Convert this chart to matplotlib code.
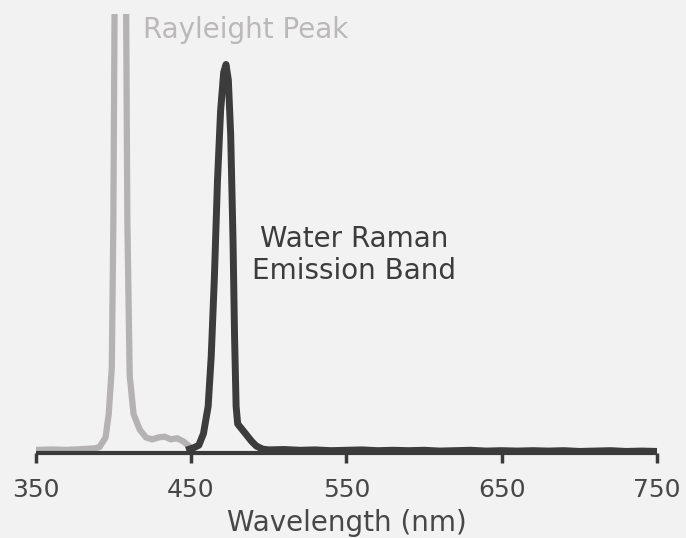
import matplotlib
matplotlib.use("Agg")
import matplotlib.pyplot as plt

# Rayleigh scatter peak (grey)
ray_wl = [350, 360, 370, 380, 388, 391, 395, 397, 399, 400, 401, 404, 408, 409,
          410.5, 413, 417, 421, 425, 429, 433, 437, 441, 445, 448]
ray_int = [0.008, 0.009, 0.008, 0.010, 0.012, 0.015, 0.04, 0.10, 0.22, 0.6, 1.3, 1.8,
           1.3, 0.6, 0.2, 0.10, 0.06, 0.04, 0.035, 0.04, 0.042, 0.035, 0.038, 0.03, 0.02]

# Water Raman emission band (dark)
ram_wl = [449, 452, 455, 458, 461, 463, 465, 467, 469, 471, 472.5, 474, 475.5, 477,
          478, 479, 480, 483, 486, 489, 492, 496, 500, 510, 520, 530, 540, 550, 560,
          570, 580, 590, 600, 610, 620, 630, 640, 650, 660, 670, 680, 690, 700, 710,
          720, 730, 740, 750]
ram_int = [0.010, 0.014, 0.02, 0.05, 0.12, 0.25, 0.45, 0.70, 0.88, 0.98, 1.0, 0.96,
           0.82, 0.55, 0.30, 0.12, 0.075, 0.06, 0.045, 0.03, 0.018, 0.010, 0.008,
           0.009, 0.007, 0.008, 0.006, 0.007, 0.008, 0.006, 0.007, 0.006, 0.007,
           0.005, 0.006, 0.007, 0.005, 0.006, 0.005, 0.006, 0.005, 0.006, 0.004,
           0.005, 0.006, 0.004, 0.005, 0.004]

xticks = [350, 450, 550, 650, 750]

plt.rcParams['font.family'] = ['DejaVu Sans']
bg = '#f3f2f2'
fig = plt.figure(figsize=(6.86, 5.38), dpi=100, facecolor=bg)
ax = fig.add_axes([0.052, 0.158, 0.906, 0.816])
ax.set_facecolor(bg)

ax.plot(ray_wl, ray_int, color='#b4b2b2', lw=4.5, solid_joinstyle='round')
ax.plot(ram_wl, ram_int, color='#3c3c3c', lw=5, solid_joinstyle='round')

ax.set_xlim(350, 750)
ax.set_ylim(0, 1.13)
for s in ['top', 'right', 'left']:
    ax.spines[s].set_visible(False)
ax.spines['bottom'].set_color('#3a3a3a')
ax.spines['bottom'].set_linewidth(3)
ax.spines['bottom'].set_capstyle('butt')
ax.set_yticks([])
ax.set_xticks(xticks)
ax.tick_params(axis='x', direction='out', length=7, width=2.5, color='#3a3a3a',
               labelsize=18, labelcolor='#474747', pad=11)
ax.set_xlabel('Wavelength (nm)', fontsize=20, color='#474747', labelpad=5)

ax.text(419, 1.09, 'Rayleight Peak', fontsize=20, color='#bab8b8',
        ha='left', va='center')
ax.text(555, 0.51, 'Water Raman\nEmission Band', fontsize=20, color='#3c3c3c',
        ha='center', va='center', linespacing=1.15)

fig.savefig('out.png', dpi=100, facecolor=bg)
